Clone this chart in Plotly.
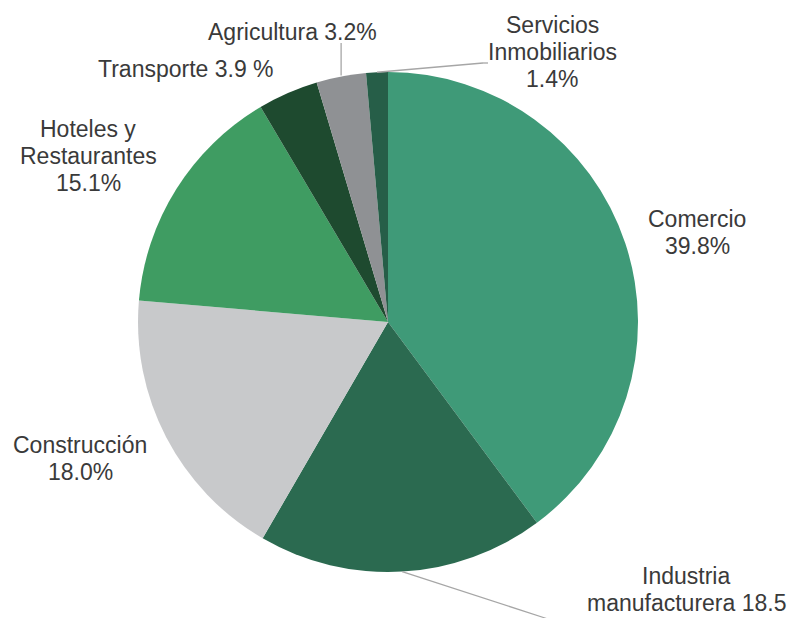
import math
import plotly.graph_objects as go

# ---- data ----
sectores = ["Comercio", "Industria manufacturera", "Construcción",
            "Hoteles y Restaurantes", "Transporte", "Agricultura",
            "Servicios Inmobiliarios"]
porcentajes = [39.8, 18.5, 18.0, 15.1, 3.9, 3.2, 1.4]
etiquetas = [["Comercio", "39.8%"],
             ["Industria", "manufacturera 18.5"],
             ["Construcción", "18.0%"],
             ["Hoteles y", "Restaurantes", "15.1%"],
             ["Transporte 3.9 %"],
             ["Agricultura 3.2%"],
             ["Servicios", "Inmobiliarios", "1.4%"]]
colores = ["#3f9a78", "#2b6a50", "#c8c9cb", "#3f9c62", "#1e4a2f", "#8f9194", "#265e48"]

# ---- layout (pixels in the reference picture) ----
W, H = 797, 618
OFF = 8  # page body margin
CX, CY, R = 388, 322, 250
label_pos = [(697, 219), (686, 576), (80, 445), (88, 129), (186, 69), (292, 32), (552, 25)]
LINE_H = 27
FONT = "Liberation Sans, Arial, sans-serif"
TXT = "#3a3a3a"


def px(x, y):
    return (x - OFF) / W, 1 - (y - OFF) / H


x0d, y1d = px(CX - R, CY - R)
x1d, y0d = px(CX + R, CY + R)

fig = go.Figure(go.Pie(
    labels=sectores, values=porcentajes, sort=False, direction="clockwise",
    rotation=0, marker=dict(colors=colores, line=dict(width=0)),
    textinfo="none", hoverinfo="label+percent", showlegend=False,
    domain=dict(x=[x0d, x1d], y=[y0d, y1d]),
))

annotations = []
for lines, (lx, ly) in zip(etiquetas, label_pos):
    for i, t in enumerate(lines):
        x, y = px(lx, ly + i * LINE_H)
        annotations.append(dict(text=t, x=x, y=y, xref="paper", yref="paper",
                                xanchor="center", yanchor="middle", showarrow=False,
                                font=dict(family=FONT, size=23, color=TXT)))

# leader lines from mid-angle of slices on the edge
total = sum(porcentajes)
cum = []
c = 0
for v in porcentajes:
    cum.append((c + v / 2) / total)
    c += v


def edge(i):
    a = 2 * math.pi * cum[i]
    return CX + R * math.sin(a), CY - R * math.cos(a)


shapes = []


def seg(p0, p1):
    xa, ya = px(*p0)
    xb, yb = px(*p1)
    shapes.append(dict(type="line", xref="paper", yref="paper", x0=xa, y0=ya, x1=xb, y1=yb,
                       line=dict(color="#a6a6a6", width=1.3)))


ex, ey = edge(1)
seg((ex, ey), (548, 619))
ex, ey = edge(5)
seg((ex, ey - 1), (ex, 43))
ex, ey = edge(6)
seg((ex, ey), (483, 63))
seg((483, 63), (488, 63))

fig.update_layout(width=W, height=H, margin=dict(l=0, r=0, t=0, b=0),
                  paper_bgcolor="white", plot_bgcolor="white",
                  annotations=annotations, shapes=shapes)
fig.write_html("out.html")
